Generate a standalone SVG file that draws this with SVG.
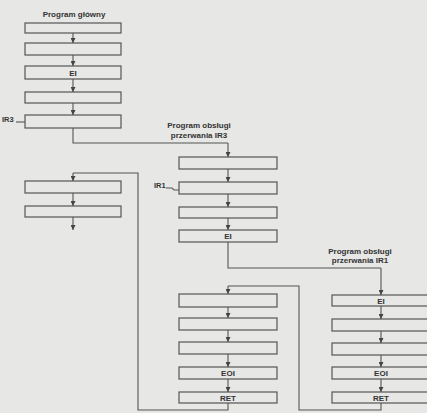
<svg xmlns="http://www.w3.org/2000/svg" width="427" height="413" viewBox="0 0 427 413">
<defs>
<marker id="ah" markerWidth="5" markerHeight="5" refX="5" refY="2.5" orient="auto" markerUnits="userSpaceOnUse">
<path d="M0,0 L5,2.5 L0,5 z" fill="#444"/>
</marker>
<style>
.b{fill:none;stroke:#555;stroke-width:1.2}
.c{fill:none;stroke:#555;stroke-width:1.1}
.a{fill:none;stroke:#555;stroke-width:1.1;marker-end:url(#ah)}
.t{font-family:"Liberation Sans",Arial,sans-serif;font-weight:bold;font-size:8px;fill:#333;text-anchor:middle}
.l{font-family:"Liberation Sans",Arial,sans-serif;font-weight:bold;font-size:7.5px;fill:#333}
</style>
</defs>
<rect x="0" y="0" width="427" height="413" fill="#e7e7e5"/>

<g id="main-program">
<text class="t" x="74" y="17">Program główny</text>
<rect id="m1" class="b" x="25" y="23" width="96" height="10"/>
<rect id="m2" class="b" x="25" y="43" width="96" height="12"/>
<g id="m3"><rect class="b" x="25" y="66" width="96" height="13"/><text class="t" x="73" y="75.5">EI</text></g>
<rect id="m4" class="b" x="25" y="92" width="96" height="11"/>
<g id="m5"><rect class="b" x="25" y="115" width="96" height="13"/><text class="l" x="2" y="122">IR3</text><path class="c" d="M16,122 L25,122"/></g>
<rect id="m6" class="b" x="25" y="181" width="96" height="12"/>
<rect id="m7" class="b" x="25" y="206" width="96" height="11"/>
</g>

<g id="ir3-handler">
<text class="t" x="199" y="128">Program obsługi</text>
<text class="t" x="199" y="138">przerwania IR3</text>
<rect id="h3a" class="b" x="179" y="157" width="98" height="12"/>
<g id="h3b"><rect class="b" x="179" y="182" width="98" height="12"/><text class="l" x="154" y="188">IR1</text><path class="c" d="M166,188 L172,188 L174,190 L179,190"/></g>
<rect id="h3c" class="b" x="179" y="207" width="98" height="11"/>
<g id="h3d"><rect class="b" x="179" y="230" width="98" height="12"/><text class="t" x="228" y="238.8">EI</text></g>
<rect id="h3e" class="b" x="179" y="294" width="98" height="13"/>
<rect id="h3f" class="b" x="179" y="318" width="98" height="12"/>
<rect id="h3g" class="b" x="179" y="342" width="98" height="12"/>
<g id="h3h"><rect class="b" x="179" y="367" width="98" height="12"/><text class="t" x="228" y="375.8">EOI</text></g>
<g id="h3i"><rect class="b" x="179" y="392" width="98" height="11"/><text class="t" x="228" y="400.5">RET</text></g>
</g>

<g id="ir1-handler">
<text class="t" x="360" y="254">Program obsługi</text>
<text class="t" x="360" y="263">przerwania IR1</text>
<g id="h1a"><rect class="b" x="332" y="295" width="98" height="11"/><text class="t" x="381" y="303.5">EI</text></g>
<rect id="h1b" class="b" x="332" y="319" width="98" height="12"/>
<rect id="h1c" class="b" x="332" y="343" width="98" height="12"/>
<g id="h1d"><rect class="b" x="332" y="367" width="98" height="12"/><text class="t" x="381" y="375.8">EOI</text></g>
<g id="h1e"><rect class="b" x="332" y="392" width="98" height="11"/><text class="t" x="381" y="400.5">RET</text></g>
</g>

<g id="connectors">
<path class="a" d="M73,33 L73,43"/>
<path class="a" d="M73,55 L73,66"/>
<path class="a" d="M73,79 L73,92"/>
<path class="a" d="M73,103 L73,115"/>
<path class="c" d="M73,128 L73,143 L228,143"/>
<path class="a" d="M228,143 L228,157"/>
<path class="a" d="M228,169 L228,182"/>
<path class="a" d="M228,194 L228,207"/>
<path class="a" d="M228,218 L228,230"/>
<path class="c" d="M228,242 L228,268 L381,268"/>
<path class="a" d="M381,268 L381,295"/>
<path class="a" d="M381,306 L381,319"/>
<path class="a" d="M381,331 L381,343"/>
<path class="a" d="M381,355 L381,367"/>
<path class="a" d="M381,379 L381,392"/>
<path class="c" d="M381,403 L381,410 L299,410 L299,286 L228,286"/>
<path class="a" d="M228,286 L228,294"/>
<path class="a" d="M228,307 L228,318"/>
<path class="a" d="M228,330 L228,342"/>
<path class="a" d="M228,354 L228,367"/>
<path class="a" d="M228,379 L228,392"/>
<path class="c" d="M228,403 L228,410 L138,410 L138,173 L73,173"/>
<path class="a" d="M73,173 L73,181"/>
<path class="a" d="M73,193 L73,206"/>
<path class="a" d="M73,217 L73,230"/>
</g>
</svg>
